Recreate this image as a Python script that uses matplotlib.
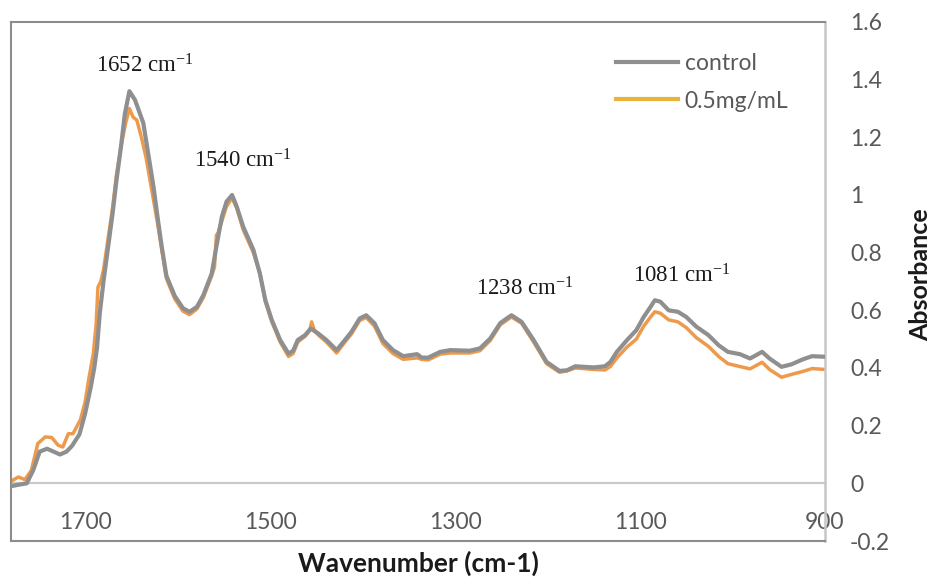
import matplotlib
matplotlib.use("Agg")
import matplotlib.pyplot as plt
from matplotlib.lines import Line2D

plt.rcParams['font.family'] = ['Lato', 'DejaVu Sans']
plt.rcParams['mathtext.fontset'] = 'custom'
plt.rcParams['mathtext.rm'] = 'Liberation Serif'
plt.rcParams['mathtext.it'] = 'Liberation Serif:italic'

# control spectrum
wn_control = [1780, 1772, 1763, 1756, 1749, 1741, 1734, 1727, 1720, 1714, 1706, 1700,
              1694, 1690, 1687, 1684, 1680, 1675, 1670, 1666, 1661, 1657, 1652, 1646,
              1637, 1632, 1626, 1621, 1617, 1612, 1603, 1594, 1587, 1579, 1572, 1563,
              1558, 1552, 1547, 1541, 1536, 1529, 1518, 1511, 1505, 1498, 1489, 1480,
              1475, 1470, 1462, 1456, 1448, 1439, 1428, 1419, 1412, 1403, 1396, 1387,
              1378, 1367, 1356, 1341, 1336, 1329, 1316, 1305, 1284, 1273, 1262, 1251,
              1239, 1228, 1215, 1201, 1187, 1179, 1170, 1150, 1138, 1132, 1125, 1114,
              1104, 1096, 1089, 1084, 1078, 1069, 1059, 1050, 1039, 1026, 1015, 1005,
              992, 981, 968, 960, 947, 936, 924, 914, 900]
abs_control = [-0.01, -0.005, 0.0, 0.045, 0.11, 0.12, 0.11, 0.10, 0.11, 0.13, 0.17, 0.24,
               0.33, 0.40, 0.47, 0.59, 0.70, 0.82, 0.94, 1.05, 1.17, 1.28, 1.36, 1.33,
               1.25, 1.15, 1.03, 0.91, 0.82, 0.72, 0.65, 0.607, 0.595, 0.612, 0.653, 0.728,
               0.82, 0.925, 0.977, 1.0, 0.96, 0.89, 0.81, 0.728, 0.635, 0.566, 0.497, 0.45,
               0.46, 0.497, 0.514, 0.537, 0.52, 0.497, 0.462, 0.497, 0.525, 0.572, 0.583, 0.555,
               0.497, 0.462, 0.441, 0.448, 0.436, 0.436, 0.456, 0.462, 0.46, 0.468, 0.502, 0.556,
               0.583, 0.56, 0.497, 0.421, 0.39, 0.392, 0.406, 0.402, 0.406, 0.421, 0.456, 0.497,
               0.531, 0.577, 0.61, 0.635, 0.63, 0.60, 0.595, 0.577, 0.543, 0.514, 0.479, 0.456,
               0.448, 0.433, 0.456, 0.433, 0.404, 0.413, 0.43, 0.441, 0.439]

# 0.5 mg/mL spectrum
wn_treated = [1780, 1772, 1765, 1758, 1751, 1743, 1736, 1729, 1724, 1718, 1713, 1705,
              1700, 1696, 1691, 1688, 1686, 1683, 1680, 1675, 1670, 1666, 1661, 1656,
              1652, 1648, 1644, 1639, 1634, 1628, 1622, 1617, 1612, 1603, 1594, 1587,
              1579, 1572, 1563, 1560, 1558, 1556, 1552, 1547, 1541, 1536, 1529, 1518,
              1511, 1505, 1498, 1489, 1480, 1475, 1470, 1462, 1457, 1455, 1452, 1448,
              1439, 1428, 1419, 1412, 1403, 1396, 1387, 1378, 1367, 1356, 1341, 1336,
              1329, 1316, 1305, 1284, 1273, 1262, 1251, 1239, 1228, 1215, 1201, 1187,
              1179, 1170, 1150, 1138, 1132, 1125, 1114, 1104, 1096, 1089, 1084, 1078,
              1069, 1059, 1050, 1039, 1026, 1015, 1005, 992, 981, 968, 960, 947,
              936, 924, 914, 900]
abs_treated = [0.007, 0.022, 0.013, 0.045, 0.138, 0.161, 0.159, 0.132, 0.126, 0.172, 0.172, 0.22,
               0.28, 0.36, 0.45, 0.55, 0.68, 0.70, 0.74, 0.85, 0.96, 1.07, 1.17, 1.25,
               1.30, 1.27, 1.26, 1.20, 1.13, 1.02, 0.91, 0.81, 0.71, 0.64, 0.597, 0.585,
               0.605, 0.645, 0.72, 0.75, 0.86, 0.87, 0.91, 0.96, 0.99, 0.955, 0.88, 0.80,
               0.73, 0.63, 0.56, 0.49, 0.44, 0.45, 0.49, 0.51, 0.53, 0.56, 0.53, 0.515,
               0.49, 0.452, 0.49, 0.518, 0.565, 0.575, 0.545, 0.485, 0.45, 0.43, 0.435, 0.43,
               0.428, 0.448, 0.452, 0.452, 0.46, 0.495, 0.55, 0.577, 0.555, 0.49, 0.415, 0.385,
               0.39, 0.40, 0.395, 0.393, 0.405, 0.435, 0.473, 0.50, 0.545, 0.575, 0.595, 0.59,
               0.567, 0.56, 0.54, 0.505, 0.475, 0.44, 0.415, 0.405, 0.397, 0.42, 0.395, 0.368,
               0.378, 0.388, 0.398, 0.395]

peak_labels = ['1652', '1540', '1238', '1081']
peak_text_x = [1688, 1582, 1277, 1108]
peak_text_y = [1.424, 1.094, 0.653, 0.698]

x_ticks = [1700, 1500, 1300, 1100, 900]
y_ticks = [-0.2, 0, 0.2, 0.4, 0.6, 0.8, 1.0, 1.2, 1.4, 1.6]
y_ticklabels = ['-0.2', '0', '0.2', '0.4', '0.6', '0.8', '1', '1.2', '1.4', '1.6']

gray = '#8f8f8f'
orange = '#ee9a4c'
legend_yellow = '#e9b43a'
text_gray = '#595959'

fig = plt.figure(figsize=(9.35, 5.79), dpi=100)
ax = fig.add_axes([11 / 935, 1 - 541 / 579, (825 - 11) / 935, (541 - 22) / 579])

ax.axhline(0, color='#c9c9c9', lw=1.6, zorder=1)
ax.plot(wn_treated, abs_treated, color=orange, lw=2.5, solid_joinstyle='round', zorder=2)
ax.plot(wn_control, abs_control, color=gray, lw=3.0, solid_joinstyle='round', zorder=3)

ax.set_xlim(1780, 900)
ax.set_ylim(-0.2, 1.6)

ax.set_xticks(x_ticks)
ax.set_xticklabels([str(t) for t in x_ticks])
ax.tick_params(axis='x', length=0, pad=-21, labelsize=16.5, labelcolor=text_gray)

ax.yaxis.tick_right()
ax.set_yticks(y_ticks)
ax.set_yticklabels(y_ticklabels)
ax.tick_params(axis='y', length=0, pad=18, labelsize=16.5, labelcolor=text_gray)

for side in ['left', 'top', 'bottom']:
    ax.spines[side].set_color('#8c8c8c')
    ax.spines[side].set_linewidth(1.5)
ax.spines['right'].set_color('#c6c6c6')
ax.spines['right'].set_linewidth(1.8)

for lab, tx, ty in zip(peak_labels, peak_text_x, peak_text_y):
    ax.text(tx, ty, lab + r' cm$^{\mathrm{-1}}$', family='Liberation Serif', fontsize=16.5,
            ha='left', va='baseline', color='#1a1a1a')

handles = [Line2D([], [], color=gray, lw=3.0), Line2D([], [], color=legend_yellow, lw=3.0)]
ax.legend(handles, ['control', '0.5mg/mL'], loc='upper left',
          bbox_to_anchor=(616 / 935, 1 - 53 / 579), bbox_transform=fig.transFigure,
          frameon=False, fontsize=16.5, handlelength=2.7, handletextpad=0.3,
          labelspacing=0.72, borderpad=0, borderaxespad=0, labelcolor=text_gray)

fig.text(418 / 935, 1 - 563 / 579, 'Wavenumber (cm-1)', ha='center', va='center',
         fontsize=19, fontweight='bold', color='#1a1a1a')
fig.text(921 / 935, 1 - 275 / 579, 'Absorbance', ha='center', va='center', rotation=90,
         fontsize=18, fontweight='bold', color='#1a1a1a')

fig.savefig('out.png', dpi=100)
